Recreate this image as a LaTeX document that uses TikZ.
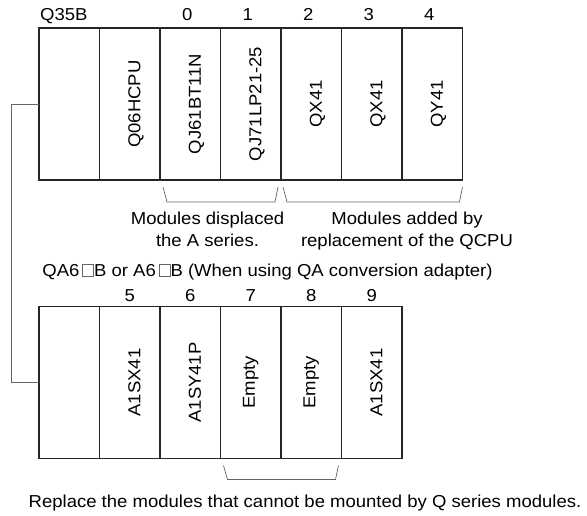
\documentclass[tikz,border=0pt]{standalone}
\usepackage{fontspec}
\setmainfont{Liberation Sans}[FakeStretch=1.07]
\usetikzlibrary{positioning,calc}
\newcommand{\sqmark}{{\color{black!60}\setlength{\fboxsep}{0pt}\setlength{\fboxrule}{0.9pt}\fbox{\rule{0pt}{11.5pt}\rule{10pt}{0pt}}}}

\begin{document}
\begin{tikzpicture}[x=1pt, y=1pt,
    slot/.style={rectangle, draw=black!85, line width=1.2pt, minimum width=60.5pt, minimum height=152pt, inner sep=0pt, outer sep=0pt},
    modtxt/.style={rotate=90, anchor=base, inner sep=0pt, font=\fontsize{17.3}{20}\selectfont},
    num/.style={inner sep=0pt, font=\fontsize{17.3}{20}\selectfont},
    note/.style={inner sep=0pt, align=center, font=\fontsize{17.3}{22}\selectfont},
    brace/.style={draw=black!60, line width=0.7pt},
    link/.style={draw=black!60, line width=0.8pt}
]
\useasboundingbox (0,0) rectangle (587,515);

% Q35B main base unit
\node[slot] (ps1) at (69.25,411) {};
\node[slot, right=0pt of ps1] (cpu) {};
\node[slot, right=0pt of cpu] (m0) {};
\node[slot, right=0pt of m0] (m1) {};
\node[slot, right=0pt of m1] (m2) {};
\node[slot, right=0pt of m2] (m3) {};
\node[slot, right=0pt of m3] (m4) {};

\node[modtxt] (tcpu) at ([xshift=10.5pt]cpu.center) {Q06HCPU};
\node[modtxt] (t0) at ([xshift=10.5pt]m0.center) {QJ61BT11N};
\node[modtxt] (t1) at ([xshift=10.5pt]m1.center) {QJ71LP21-25};
\node[modtxt] (t2) at ([xshift=10.5pt]m2.center) {QX41};
\node[modtxt] (t3) at ([xshift=10.5pt]m3.center) {QX41};
\node[modtxt] (t4) at ([xshift=10.5pt]m4.center) {QY41};

\node[num, anchor=base west] (qbase) at ([shift={(1,7)}]ps1.north west) {Q35B};
\node[num, above=7pt of m0, xshift=-3pt] (n0) {0};
\node[num, above=7pt of m1, xshift=-3pt] (n1) {1};
\node[num, above=7pt of m2, xshift=-3pt] (n2) {2};
\node[num, above=7pt of m3, xshift=-3pt] (n3) {3};
\node[num, above=7pt of m4, xshift=-3pt] (n4) {4};

% brackets under the main base
\draw[brace] ([shift={(3,-7)}]m0.south west) -- ++(4,-15) -- ([shift={(-6,-22)}]m1.south east) -- ([shift={(-3,-7)}]m1.south east);
\draw[brace] ([shift={(2,-7)}]m2.south west) -- ++(4,-15) -- ([shift={(-3,-22)}]m4.south east) -- ([shift={(0,-7)}]m4.south east);

\node[note, anchor=north] (dispnote) at (207.5,303.5) {Modules displaced\\the A series.};
\node[note, anchor=north] (addnote) at (407,303.5) {Modules added by\\replacement of the QCPU};

\node[num, anchor=base] (qa6) at (267.5,238.5) {QA6\,\sqmark B or A6\,\sqmark B (When using QA conversion adapter)};

% QA6/A6 extension base
\node[slot] (ps2) at (69.25,132.5) {};
\node[slot, right=0pt of ps2] (a5) {};
\node[slot, right=0pt of a5] (a6) {};
\node[slot, right=0pt of a6] (e7) {};
\node[slot, right=0pt of e7] (e8) {};
\node[slot, right=0pt of e8] (a9) {};

\node[modtxt] (t5) at ([xshift=10.5pt]a5.center) {A1SX41};
\node[modtxt] (t6) at ([xshift=10.5pt]a6.center) {A1SY41P};
\node[modtxt] (t7) at ([xshift=4pt]e7.center) {Empty};
\node[modtxt] (t8) at ([xshift=4pt]e8.center) {Empty};
\node[modtxt] (t9) at ([xshift=10.5pt]a9.center) {A1SX41};

\node[num, above=5pt of a5] (n5) {5};
\node[num, above=5pt of a6] (n6) {6};
\node[num, above=5pt of e7] (n7) {7};
\node[num, above=5pt of e8] (n8) {8};
\node[num, above=5pt of a9] (n9) {9};

\draw[brace] ([shift={(3,-7)}]e7.south west) -- ++(4,-14) -- ([shift={(-6,-21)}]e8.south east) -- ([shift={(-3,-7)}]e8.south east);

\node[num, anchor=base] (repl) at (305,8) {Replace the modules that cannot be mounted by Q series modules.};

% base cable
\draw[link] (ps1.west) -- ++(-28,0) |- (ps2.west);
\end{tikzpicture}
\end{document}
